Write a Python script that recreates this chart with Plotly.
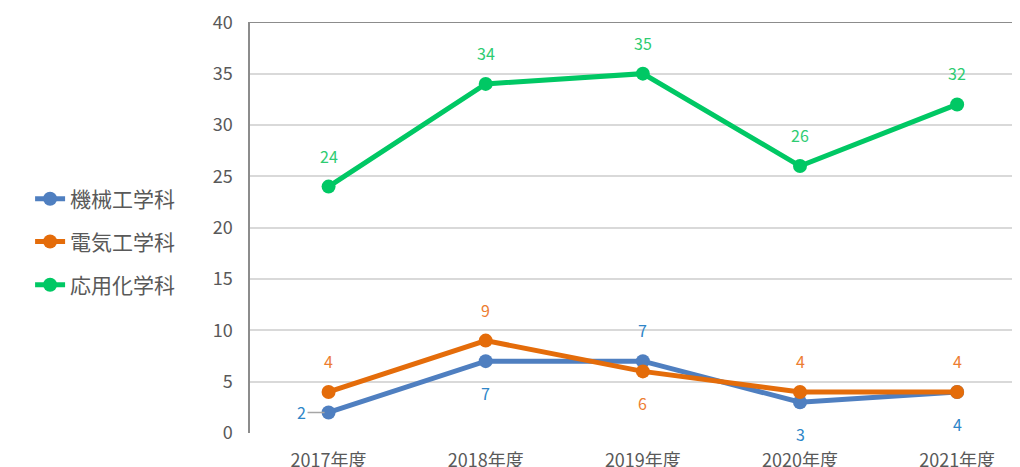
import plotly.graph_objects as go

categories = ["2017年度", "2018年度", "2019年度", "2020年度", "2021年度"]
names = ["機械工学科", "電気工学科", "応用化学科"]
kikai = [2, 7, 7, 3, 4]
denki = [4, 9, 6, 4, 4]
ouyou = [24, 34, 35, 26, 32]
series = [kikai, denki, ouyou]
line_colors = ["#4f7fc0", "#e46c0a", "#00c864"]
text_colors = ["#2e86c8", "#ed7d31", "#2ecc71"]
# label placement per point: "above", "below", "left"
placements = [
    ["left", "below", "above", "below", "below"],
    ["above", "above", "below", "above", "above"],
    ["above", "above", "above", "above", "above"],
]
yticks = [0, 5, 10, 15, 20, 25, 30, 35, 40]

FONT = "Noto Sans CJK JP"
fig = go.Figure()
legend_ids = ["legend", "legend2", "legend3"]
legend_y = [0.569, 0.465, 0.360]

for i, (nm, vals) in enumerate(zip(names, series)):
    fig.add_trace(go.Scatter(
        x=categories, y=vals, name=nm, mode="lines+markers",
        line=dict(color=line_colors[i], width=5),
        marker=dict(color=line_colors[i], size=14),
        legend=legend_ids[i],
    ))

annotations = []
for i, vals in enumerate(series):
    for j, v in enumerate(vals):
        p = placements[i][j]
        a = dict(x=categories[j], y=v, xref="x", yref="y", text=str(v),
                 font=dict(family=FONT, size=16, color=text_colors[i]))
        if p == "left":
            a.update(showarrow=True, ax=-27, ay=0, arrowhead=0, arrowwidth=1.5,
                     arrowcolor="#a6a6a6", standoff=4)
        else:
            a.update(showarrow=False, yshift=31 if p == "above" else -32)
        annotations.append(a)

layout_legends = {}
for k, lid in enumerate(legend_ids):
    layout_legends[lid] = dict(
        x=-0.2856, y=legend_y[k], xanchor="left", yanchor="middle",
        font=dict(family=FONT, size=21, color="#595959"),
        bgcolor="rgba(0,0,0,0)",
    )

fig.update_layout(
    width=1020, height=467,
    margin=dict(l=242, r=8, t=14, b=42, autoexpand=False),
    plot_bgcolor="white", paper_bgcolor="white",
    annotations=annotations,
    showlegend=True,
    shapes=[dict(type="line", xref="paper", yref="y", x0=0, x1=1,
                 y0=yticks[-1], y1=yticks[-1], line=dict(color="#8c8c8c", width=1.5),
                 layer="below")],
    **layout_legends,
)
fig.update_xaxes(
    range=[-0.5, 4.4], showgrid=False, showline=False, zeroline=False,
    ticks="", ticklabelstandoff=15, automargin=False, ticklabeloverflow="allow",
    tickfont=dict(family=FONT, size=18, color="#595959"),
)
fig.update_yaxes(
    range=[0, 40.03], tickvals=yticks, showgrid=True, gridcolor="#d9d9d9", gridwidth=1.5,
    showline=True, linecolor="#8c8c8c", linewidth=1.5, zeroline=False,
    ticks="", ticklabelstandoff=12, automargin=False, ticklabeloverflow="allow",
    tickfont=dict(family=FONT, size=18, color="#595959"),
)
fig.write_html("out.html")
